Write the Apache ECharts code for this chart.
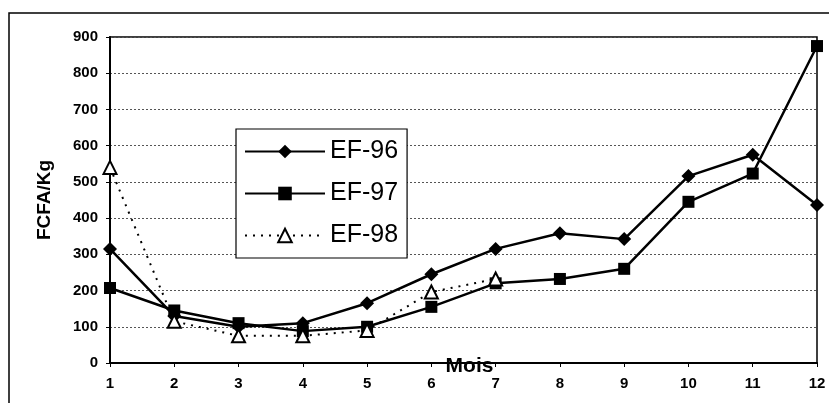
<!DOCTYPE html>
<html><head><meta charset="utf-8">
<script src="https://cdn.jsdelivr.net/npm/echarts@6/dist/echarts.min.js"></script>
<style>html,body{margin:0;padding:0;background:#fff}#c{width:829px;height:403px}</style>
</head><body><div id="c"></div>
<script>
const months = ['1','2','3','4','5','6','7','8','9','10','11','12'];
const ef96 = [315, 130, 100, 110, 165, 245, 315, 358, 342, 516, 575, 436];
const ef97 = [207, 145, 110, 88, 100, 155, 220, 232, 260, 445, 523, 875];
const ef98 = [540, 115, 75, 75, 90, 196, 232, null, null, null, null, null];
const yTicks = {min: 0, max: 900, interval: 100};

const font = 'Liberation Sans, Arial, sans-serif';
const chart = echarts.init(document.getElementById('c'));
chart.setOption({
  animation: false,
  backgroundColor: '#fff',
  graphic: [{type:'rect', shape:{x:9, y:13, width:840, height:420}, style:{fill:'none', stroke:'#000', lineWidth:1.5}, z:-1}],
  grid: {left:110, top:37, right:12, bottom:40, show:true, borderColor:'#000', borderWidth:1.5,
         containLabel:false, outerBoundsMode:'none'},
  legend: {
    left: 236, top: 129, orient: 'vertical',
    itemWidth: 80, itemHeight: 17, itemGap: 13,
    padding: [8, 9, 8, 8],
    borderColor: '#000', borderWidth: 1.2, backgroundColor: '#fff',
    textStyle: {fontFamily: font, fontSize: 25, color: '#000', lineHeight: 29},
    data: ['EF-96', 'EF-97', 'EF-98']
  },
  xAxis: {
    type: 'category', data: months, boundaryGap: false,
    name: 'Mois', nameLocation: 'middle', nameGap: 3, nameMoveOverlap: false,
    nameTextStyle: {fontFamily: font, fontWeight: 'bold', fontSize: 21, color: '#000',
                    verticalAlign: 'middle', padding:[0,0,0,12]},
    axisLine: {lineStyle: {color: '#000', width: 2}},
    axisTick: {show: true, alignWithLabel: true, length: 4, lineStyle:{color:'#000'}},
    axisLabel: {fontFamily: font, fontWeight: 'bold', fontSize: 15, color: '#000', margin: 13},
    splitLine: {show: false}
  },
  yAxis: {
    type: 'value', min: yTicks.min, max: yTicks.max, interval: yTicks.interval,
    name: 'FCFA/Kg', nameLocation: 'middle', nameGap: 56,
    nameTextStyle: {fontFamily: font, fontWeight: 'bold', fontSize: 19, color: '#000'},
    axisLine: {show: true, lineStyle: {color: '#000', width: 2}},
    axisTick: {show: true, length: 4, lineStyle:{color:'#000'}},
    axisLabel: {fontFamily: font, fontWeight: 'bold', fontSize: 15, color: '#000', margin: 12},
    splitLine: {show: true, lineStyle: {color: '#555', type: [2, 2], width: 1}}
  },
  series: [
    {name: 'EF-96', type: 'line', data: ef96, symbol: 'diamond', symbolSize: 14,
     lineStyle: {color: '#000', width: 2.5}, itemStyle: {color: '#000'}},
    {name: 'EF-97', type: 'line', data: ef97, symbol: 'rect', symbolSize: 12,
     lineStyle: {color: '#000', width: 2.5}, itemStyle: {color: '#000'}},
    {name: 'EF-98', type: 'line', data: ef98, symbol: 'triangle', symbolSize: 13,
     lineStyle: {color: '#000', width: 2, type: [2, 6]},
     itemStyle: {color: '#fff', borderColor: '#000', borderWidth: 2}}
  ]
});
</script></body></html>
